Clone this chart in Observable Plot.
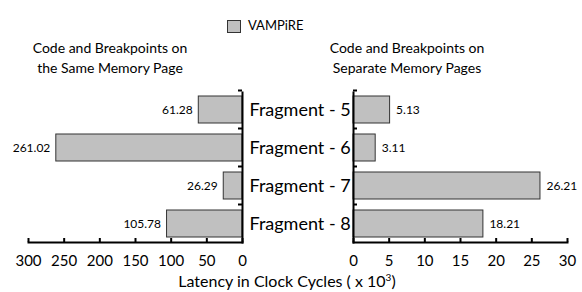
<!DOCTYPE html>
<html>
<head>
<meta charset="utf-8">
<script src="https://cdn.jsdelivr.net/npm/d3@7"></script>
<script src="https://cdn.jsdelivr.net/npm/@observablehq/plot@0.6"></script>
<style>
  html, body { margin: 0; padding: 0; background: #fff; }
  #wrap { position: relative; width: 582px; height: 292px; font-family: Lato, "Open Sans", sans-serif; color: #000; overflow: hidden; }
  #wrap svg { position: absolute; left: 0; top: 0; overflow: visible; }
  .abs { position: absolute; white-space: nowrap; }
  .title { font-size: 14px; line-height: 20px; text-align: center; transform: translateX(-50%); }
  sup { font-size: 10px; line-height: 0; vertical-align: 0; position: relative; top: -0.6em; }
</style>
</head>
<body>
<div id="wrap">
  <div class="abs" style="left:227px; top:20px; width:12px; height:11px; background:#c0c0c0; border:1px solid #333;"></div>
  <div class="abs" style="left:248px; top:17px; font-size:13px; line-height:16px;">VAMPiRE</div>
  <div class="abs title" style="left:110px; top:38px;">Code and Breakpoints on<br>the Same Memory Page</div>
  <div class="abs title" style="left:407px; top:38px;">Code and Breakpoints on<br>Separate Memory Pages</div>
  <div class="abs" style="left:287px; top:272px; font-size:16px; line-height:18px; transform:translateX(-50%);">Latency in Clock Cycles ( x 10<sup>3</sup>)</div>
</div>
<script>
const fragments = ["Fragment - 5", "Fragment - 6", "Fragment - 7", "Fragment - 8"];
const sameSeries = [61.28, 261.02, 26.29, 105.78];
const separateSeries = [5.13, 3.11, 26.21, 18.21];
const leftTicks = [0, 50, 100, 150, 200, 250, 300];
const rightTicks = [0, 5, 10, 15, 20, 25, 30];
const seriesName = "VAMPiRE";

const left = fragments.map((f, i) => ({fragment: f, value: sameSeries[i]}));
const right = fragments.map((f, i) => ({fragment: f, value: separateSeries[i]}));

const W = 582, H = 292, MT = 92, MB = 50;
const FILL = "#c0c0c0", STROKE = "#333";
const yScale = {domain: fragments, range: [94, 239], paddingInner: 0.282, paddingOuter: 0, axis: null};
const frameH = H - MT - MB;

function panel({data, ticks, domain, reverse, marginLeft, marginRight, side}) {
  const frameW = W - marginLeft - marginRight;
  const isLeft = side === "left";
  const marks = [
    Plot.barX(data, {x: "value", y: "fragment", fill: FILL, stroke: STROKE, strokeWidth: 1}),
    Plot.text(data, {x: "value", y: "fragment", text: d => d.value.toFixed(2),
      textAnchor: isLeft ? "end" : "start", dx: isLeft ? -6 : 6, fontSize: 12}),
    Plot.axisX({ticks, tickSize: 0, tickPadding: 13, fontSize: 15, label: null}),
    Plot.ruleX(ticks, {x: d => d, insetTop: frameH - 4, strokeWidth: 2}),
    Plot.frame({anchor: "bottom", strokeWidth: 2}),
    Plot.frame({anchor: isLeft ? "right" : "left", strokeWidth: 2}),
    Plot.ruleY(fragments, {y: d => d, dy: -19.5, strokeWidth: 2,
      insetLeft: isLeft ? frameW - 4 : 0, insetRight: isLeft ? 0 : frameW - 4})
  ];
  if (isLeft) {
    marks.push(Plot.text(fragments, {y: d => d, frameAnchor: "right", dx: 7, textAnchor: "start", fontSize: 18}));
  }
  return Plot.plot({
    width: W, height: H, marginLeft, marginRight, marginTop: MT, marginBottom: MB,
    x: {domain, reverse, ticks},
    y: yScale,
    style: {fontFamily: "Lato, 'Open Sans', sans-serif", background: "transparent", color: "#000", overflow: "visible"},
    marks
  });
}

const wrap = document.getElementById("wrap");
wrap.appendChild(panel({data: left, ticks: leftTicks, domain: [0, 300], reverse: true, marginLeft: 28, marginRight: W - 242, side: "left"}));
wrap.appendChild(panel({data: right, ticks: rightTicks, domain: [0, 30], reverse: false, marginLeft: 353, marginRight: W - 567, side: "right"}));
</script>
</body>
</html>
